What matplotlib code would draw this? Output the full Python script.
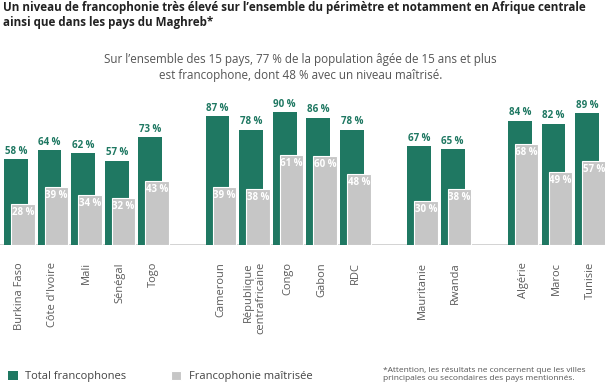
import matplotlib
matplotlib.use("Agg")
import matplotlib.pyplot as plt
import numpy as np

plt.rcParams['font.family'] = ['Open Sans', 'DejaVu Sans']

# data
countries = ["Burkina Faso", "Côte d'Ivoire", "Mali", "Sénégal", "Togo",
             "Cameroun", "République\ncentrafricaine", "Congo", "Gabon", "RDC",
             "Mauritanie", "Rwanda",
             "Algérie", "Maroc", "Tunisie"]
total = [58, 64, 62, 57, 73,
         87, 78, 90, 86, 78,
         67, 65,
         84, 82, 89]
maitrise = [28, 39, 34, 32, 43,
            39, 38, 61, 60, 48,
            30, 38,
            68, 49, 57]
# regional groups of sizes 5, 5, 2, 3 with a two-slot gap between them
group_sizes = [5, 5, 2, 3]

green = "#1f7862"
grey = "#c6c6c6"

pos = []
start = 0
for n in group_sizes:
    pos += list(range(start, start + n))
    start += n + 1
pos = np.array(pos, dtype=float)

fig = plt.figure(figsize=(6.05, 3.86), dpi=100)
ax = fig.add_axes([0, 141 / 386, 1, 148 / 386])

w1 = 0.71
w2 = 0.70
off = 0.21
b1 = ax.bar(pos, total, width=w1, align="edge", color=green, zorder=2,
            label="Total francophones")
b2 = ax.bar(pos + off, maitrise, width=w2, align="edge", color=grey,
            edgecolor="white", linewidth=0.8, zorder=3,
            label="Francophonie maîtrisée")

for x, v in zip(pos, total):
    ax.text(x + w1 / 2, v + 1.5, f"{v} %", ha="center", va="bottom",
            fontsize=7, fontweight="bold", color=green, clip_on=False)
for x, v in zip(pos, maitrise):
    ax.text(x + off + w2 / 2, v - 2, f"{v} %", ha="center", va="top",
            fontsize=7, fontweight="bold", color="white", zorder=4)

for x, name in zip(pos, countries):
    ax.text(x + 0.45, -11.5, name, rotation=90, ha="center", va="top",
            multialignment="right", fontsize=8, color="#5a5a5a")

ax.axhline(0, color="#cccccc", lw=1.2, zorder=1)
ax.set_xlim(-0.12, 17.89)
ax.set_ylim(0, 100)
ax.axis("off")

fig.text(0.005, 0.997, "Un niveau de francophonie très élevé sur l’ensemble du périmètre et notamment en Afrique centrale\n"
         "ainsi que dans les pays du Maghreb*", ha="left", va="top",
         fontsize=8.35, fontweight="bold", color="#222222", linespacing=1.2)
fig.text(0.497, 0.862, "Sur l’ensemble des 15 pays, 77 % de la population âgée de 15 ans et plus\n"
         "est francophone, dont 48 % avec un niveau maîtrisé.", ha="center", va="top",
         fontsize=8.4, color="#555555", linespacing=1.25)
fig.text(0.633, 0.01, "*Attention, les résultats ne concernent que les villes\n"
         "principales ou secondaires des pays mentionnés.", ha="left", va="bottom",
         fontsize=6, color="#555555", linespacing=1.3)

fig.legend(handles=[b1, b2], loc="lower left", bbox_to_anchor=(-0.004, -0.016),
           ncol=2, frameon=False, fontsize=8, handlelength=0.9, handleheight=0.9,
           columnspacing=4.1, handletextpad=0.65, labelcolor="#444444")

fig.savefig("out.png", dpi=100)
